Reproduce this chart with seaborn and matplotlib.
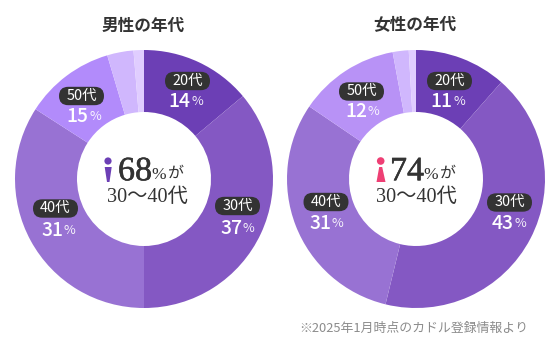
import seaborn as sns
import matplotlib.pyplot as plt
import matplotlib.patheffects as pe
from matplotlib.patches import Circle, Polygon, FancyBboxPatch

sns.set_theme(style='white')
plt.rcParams['font.family'] = ['Noto Sans CJK JP', 'DejaVu Sans']

W, H = 553, 352

# drawn slice shares, printed labels differ a little
male_slices = [13.9, 36.1, 34.1, 11.3, 3.3, 1.3]
female_slices = [11.5, 42.3, 30.7, 12.6, 2.0, 0.9]
ages = ['20代', '30代', '40代', '50代']
male_labels = ['14', '37', '31', '15']
female_labels = ['11', '43', '31', '12']
male_colors = ['#6c3fb5', '#8458c3', '#9872d3', '#b28bfb', '#d0b7fd', '#e0cdff']
female_colors = ['#6c3fb5', '#8458c3', '#9872d3', '#b892f6', '#d0b7fd', '#e0cdff']

SERIF = ['Liberation Serif', 'Noto Sans CJK JP']
DARK = '#333333'

fig = plt.figure(figsize=(W / 100, H / 100), dpi=100)
ax = fig.add_axes([0, 0, 1, 1])


def donut(cx, cy, slices, colors):
    ax.pie(slices, colors=sns.color_palette(colors), startangle=90, counterclock=False,
           center=(cx, H - cy), radius=129, frame=True,
           wedgeprops=dict(width=62, linewidth=0))


def age_label(pill, val_pos, age, value):
    x, y = pill
    ax.add_patch(FancyBboxPatch((x - 22.5, H - y - 9.2), 45, 18.4, boxstyle='round,pad=0,rounding_size=9.2',
                                fc=DARK, ec='none', zorder=3))
    ax.text(x, H - y + 0.5, age, color='white', fontsize=10.4, ha='center', va='center', zorder=4)
    vx, vy = val_pos
    ax.text(vx + 4, H - vy, value, color='white', fontsize=13.8, ha='right', va='center', fontweight='medium')
    ax.text(vx + 4.5, H - vy - 0.5, '%', color='white', fontsize=9.2, ha='left', va='center', alpha=0.9)


def center_text(x, num, x2):
    ax.text(x, H - 172, num, color=DARK, fontsize=24.5, ha='left', va='center', family=SERIF,
            path_effects=[pe.withStroke(linewidth=0.4, foreground=DARK)])
    ax.text(x + 33, H - 175, '%', color=DARK, fontsize=12.5, ha='left', va='center', family=SERIF)
    ax.text(x + 49.5, H - 174, 'が', color=DARK, fontsize=11.5, ha='left', va='center', family=SERIF)
    ax.text(x2, H - 197.5, '30～40代', color=DARK, fontsize=14.6, ha='center', va='center', family=SERIF)


donut(144, 179, male_slices, male_colors)
donut(416, 179, female_slices, female_colors)

ax.text(143, H - 25.5, '男性の年代', color=DARK, fontsize=12, ha='center', va='center', fontweight='bold')
ax.text(415, H - 25.5, '女性の年代', color=DARK, fontsize=12, ha='center', va='center', fontweight='bold')

male_pills = [(187.5, 81), (237.5, 206), (55.5, 208.5), (81.5, 96)]
male_vals = [(186.5, 101), (238, 228), (59, 230), (84.5, 116)]
female_pills = [(449.5, 81), (509.5, 202.5), (326, 202), (361.5, 91.5)]
female_vals = [(448.5, 101), (510, 223), (327, 223), (363, 111)]
for p, v, age, val in zip(male_pills, male_vals, ages, male_labels):
    age_label(p, v, age, val)
for p, v, age, val in zip(female_pills, female_vals, ages, female_labels):
    age_label(p, v, age, val)

center_text(118, '68', 147)
center_text(390, '74', 416)

# person icons
ax.add_patch(Circle((108, H - 161), 3.6, fc='#6c3fb5', ec='none'))
ax.add_patch(Polygon([(104.7, H - 167), (111.7, H - 167), (109.5, H - 182), (107, H - 182)], fc='#6c3fb5', ec='none'))
ax.add_patch(Circle((380.7, H - 161), 3.8, fc='#ee3f74', ec='none'))
ax.add_patch(Polygon([(379.2, H - 167), (382.2, H - 167), (385.5, H - 182), (376.5, H - 182)], fc='#ee3f74', ec='none'))

ax.text(528, H - 328, '※2025年1月時点のカドル登録情報より', color='#8c8c8c', fontsize=9.3, ha='right', va='center')

ax.set_xlim(0, W)
ax.set_ylim(0, H)
ax.set_aspect('equal')
ax.axis('off')
fig.savefig('out.png', dpi=100, facecolor='white')
